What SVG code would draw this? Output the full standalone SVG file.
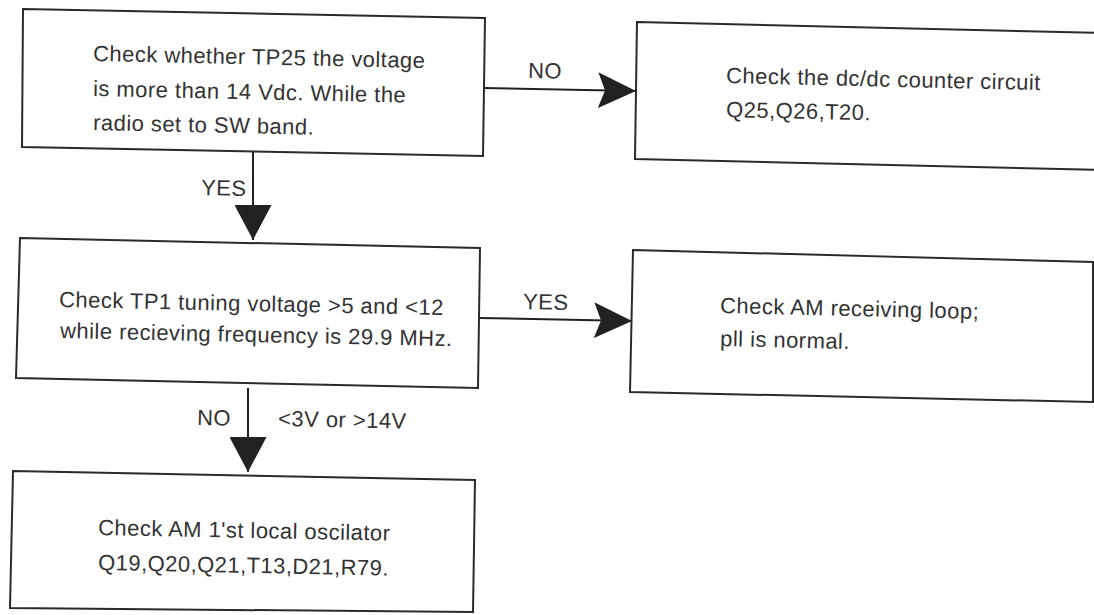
<svg xmlns="http://www.w3.org/2000/svg" width="1094" height="615" viewBox="0 0 1094 615">
<style>
.box{fill:#fff;stroke:#2a2a2a;stroke-width:2}
.t{font-family:"Liberation Sans",Arial,sans-serif;font-size:22px;letter-spacing:0.45px;fill:#333}
.c{stroke:#222;stroke-width:2;fill:none}
</style>
<defs>
<marker id="ah" markerUnits="userSpaceOnUse" markerWidth="38" markerHeight="36" viewBox="0 0 38 36" refX="38" refY="18" orient="auto">
<path d="M0,0 L38,18 L0,36 L7,18 Z" fill="#222"/>
</marker>
<marker id="av" markerUnits="userSpaceOnUse" markerWidth="35" markerHeight="37" viewBox="0 0 35 37" refX="35" refY="18.5" orient="auto">
<path d="M0,0 L35,18.5 L0,37 Z" fill="#222"/>
</marker>
</defs>
<rect width="1094" height="615" fill="#fff"/>
<g id="connectors">
<path class="c" d="M484,88 L636,91" marker-end="url(#ah)"/>
<path class="c" d="M253,152 L253,240" marker-end="url(#av)"/>
<path class="c" d="M479,318 L632,321" marker-end="url(#ah)"/>
<path class="c" d="M248,388 L248,472" marker-end="url(#av)"/>
<text class="t" transform="rotate(1.2 528 78)" x="528" y="78">NO</text>
<text class="t" transform="rotate(1.2 201 195)" x="201" y="195">YES</text>
<text class="t" transform="rotate(1.2 523 309)" x="523" y="309">YES</text>
<text class="t" transform="rotate(1.2 197 425)" x="197" y="425">NO</text>
<text class="t" transform="rotate(1.2 278 426)" x="278" y="426">&lt;3V or &gt;14V</text>
</g>
<g id="n1">
<polygon class="box" points="23,9 485,18 483,156 22,147"/>
<text class="t" transform="rotate(1.2 93 61)" x="93" y="61">Check whether TP25 the voltage</text>
<text class="t" transform="rotate(1.2 93 96)" x="93" y="96">is more than 14 Vdc. While the</text>
<text class="t" transform="rotate(1.2 93 130)" x="93" y="130">radio set to SW band.</text>
</g>
<g id="n2">
<polygon class="box" points="637,22 1100,33 1100,170 635,159"/>
<text class="t" transform="rotate(1.3 726 83)" x="726" y="83">Check the dc/dc counter circuit</text>
<text class="t" transform="rotate(1.3 726 117)" x="726" y="117">Q25,Q26,T20.</text>
</g>
<g id="n3">
<polygon class="box" points="20,238 480,248 478,388 16,378"/>
<text class="t" transform="rotate(1.2 59 307)" x="59" y="307">Check TP1 tuning voltage &gt;5 and &lt;12</text>
<text class="t" transform="rotate(1.2 60 338)" x="60" y="338">while recieving frequency is 29.9 MHz.</text>
</g>
<g id="n4">
<polygon class="box" points="633,250 1093,262 1093,402 630,392"/>
<text class="t" transform="rotate(1.3 720 313)" x="720" y="313">Check AM receiving loop;</text>
<text class="t" transform="rotate(1.3 720 346)" x="720" y="346">pll is normal.</text>
</g>
<g id="n5">
<polygon class="box" points="13,471 475,480 473,612 10,608"/>
<text class="t" transform="rotate(1.1 98 535)" x="98" y="535">Check AM 1'st local oscilator</text>
<text class="t" transform="rotate(1.1 98 570)" x="98" y="570">Q19,Q20,Q21,T13,D21,R79.</text>
</g>
</svg>
